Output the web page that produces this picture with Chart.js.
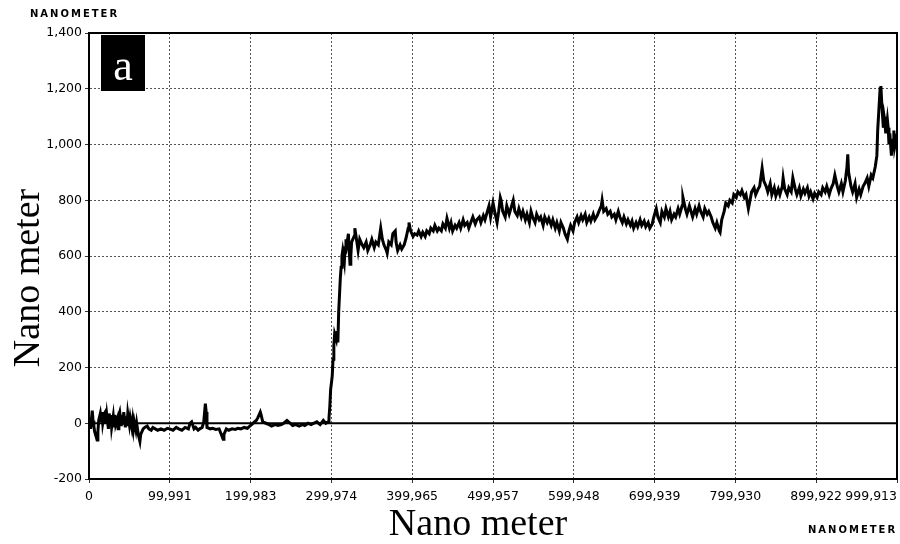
<!DOCTYPE html>
<html><head><meta charset="utf-8">
<script src="https://cdn.jsdelivr.net/npm/chart.js@4.4.1/dist/chart.umd.min.js"></script>
<style>html,body{margin:0;padding:0;background:#fff}#c{display:block}</style>
</head><body>
<canvas id="c" width="900" height="544"></canvas>
<script>
// Scan positions (nm) along the profile
const positionNm = [
  0,1000,2000,4000,5000,6000,7000,9000,10000,11000,
  12000,14000,15000,16000,17000,19000,20000,21000,22000,24000,
  25000,26000,27000,28000,30000,31000,32000,33000,35000,36000,
  37000,38000,40000,41000,42000,43000,45000,46000,47000,48000,
  50000,51000,53000,54000,55000,56000,58000,59000,61000,
  63000,64000,67000,69000,72000,74000,77000,79000,82000,85000,
  89000,93000,97000,100000,104000,108000,111000,115000,119000,123000,
  125000,127000,130000,132000,135000,137000,140000,142000,144000,145000,
  146000,150000,153000,157000,161000,163000,166000,167000,170000,173000,
  177000,181000,184000,188000,192000,196000,199000,203000,207000,209000,
  212000,213000,215000,219000,223000,226000,230000,234000,238000,241000,
  245000,249000,252000,256000,260000,264000,267000,271000,275000,278000,
  282000,286000,290000,293000,296000,297000,298000,299000,301000,302000,
  303000,304000,306000,307000,308000,309000,311000,312000,313000,314000,
  316000,317000,318000,319000,321000,322000,323000,324000,325000,328000,
  329000,330000,332000,333000,335000,338000,340000,343000,345000,348000,
  350000,353000,355000,358000,360000,361000,363000,365000,368000,369000,
  371000,374000,376000,379000,380000,382000,385000,387000,390000,392000,
  395000,396000,398000,401000,403000,406000,408000,411000,413000,416000,
  418000,421000,423000,426000,428000,431000,433000,436000,438000,441000,
  443000,446000,448000,450000,453000,455000,458000,460000,463000,465000,
  468000,470000,473000,475000,478000,480000,483000,485000,488000,490000,
  493000,495000,497000,500000,502000,505000,507000,509000,510000,512000,
  515000,517000,520000,522000,525000,527000,530000,532000,535000,537000,
  540000,542000,545000,547000,549000,552000,554000,557000,559000,562000,
  564000,567000,569000,572000,574000,577000,579000,582000,584000,587000,
  589000,592000,594000,596000,599000,601000,604000,606000,609000,611000,
  614000,616000,619000,621000,624000,626000,629000,631000,634000,635000,
  637000,640000,642000,645000,647000,650000,652000,655000,657000,660000,
  662000,665000,667000,670000,672000,674000,677000,679000,682000,684000,
  687000,689000,692000,694000,697000,699000,702000,704000,707000,709000,
  712000,714000,717000,719000,721000,724000,726000,729000,731000,734000,
  735000,738000,740000,743000,745000,747000,750000,752000,755000,757000,
  760000,762000,765000,767000,770000,772000,775000,777000,780000,781000,
  783000,786000,788000,791000,793000,796000,798000,801000,803000,806000,
  808000,811000,813000,816000,818000,820000,823000,825000,828000,830000,
  833000,835000,838000,840000,843000,845000,848000,850000,853000,855000,
  858000,859000,861000,864000,866000,869000,871000,874000,876000,879000,
  881000,884000,886000,889000,891000,893000,896000,898000,901000,903000,
  906000,908000,911000,913000,916000,918000,921000,923000,926000,928000,
  931000,933000,936000,938000,939000,940000,943000,945000,948000,950000,
  953000,955000,958000,960000,963000,965000,968000,970000,973000,975000,
  976000,978000,979000,980000,981000,983000,984000,985000,986000,988000,
  989000,990000,991000,993000,994000,995000,996000,997000,999000,999913
];
// Measured height (nm) at each position
const heightNm = [
  0,20,-20,45,10,-10,-30,-50,-60,-30,
  10,35,10,40,0,35,40,0,30,-20,
  35,10,30,-15,25,-10,30,-5,15,-20,
  30,40,-10,30,-5,40,-15,25,-10,35,
  -5,20,-15,10,-20,5,-25,0,-40,
  -65,-40,-20,-15,-10,-20,-25,-15,-20,-25,
  -20,-25,-18,-20,-25,-15,-20,-25,-15,-20,
  0,5,-20,-15,-25,-20,-15,5,70,40,
  -15,-20,-18,-22,-20,-35,-57,-40,-20,-25,
  -20,-22,-18,-20,-15,-18,-10,0,10,20,
  40,30,5,0,-5,-10,-5,-8,-5,0,
  10,0,-8,-5,-10,-5,-8,0,-5,0,
  5,-5,10,0,5,20,60,120,170,230,
  280,320,300,330,290,400,520,560,600,620,
  580,630,660,640,680,620,570,600,650,670,
  700,680,640,620,660,640,630,650,620,640,
  660,630,650,640,680,700,660,640,620,610,
  650,640,680,690,650,620,640,625,640,660,
  700,720,690,670,680,675,690,670,685,670,
  690,680,700,690,710,690,700,690,715,700,
  735,700,720,690,710,700,720,700,730,710,
  720,700,725,740,715,730,740,720,745,730,
  760,780,740,790,760,720,760,810,800,760,
  740,780,750,770,800,760,745,770,740,760,
  730,750,720,760,740,720,750,730,740,710,
  740,720,735,710,730,700,720,690,720,700,
  680,660,690,710,690,720,740,720,745,730,
  750,720,740,725,750,730,745,760,780,800,
  760,770,750,760,740,750,730,760,740,720,
  740,715,730,710,725,700,720,705,730,710,
  725,705,720,700,715,740,770,740,720,760,
  740,770,740,760,730,750,740,770,750,780,
  810,770,750,780,760,740,770,750,780,760,
  740,770,750,760,740,720,700,720,690,685,
  730,760,790,780,800,790,820,810,830,820,
  835,810,820,770,800,830,845,820,840,850,
  915,870,850,830,860,820,845,815,840,820,
  850,880,840,820,845,830,880,840,820,845,
  815,840,825,845,815,830,805,825,810,830,
  820,845,830,850,820,840,860,890,850,830,
  860,830,870,920,965,900,850,830,860,810,
  840,820,850,860,880,850,890,880,920,960,
  1050,1150,1200,1210,1150,1060,1100,1080,1040,1090,
  1060,1000,1040,960,1020,980,1050,990,1020,1000
];
const xTickValues = [0, 99991, 199983, 299974, 399965, 499957, 599948, 699939, 799930, 899922, 999913];
const yTickValues = [-200, 0, 200, 400, 600, 800, 1000, 1200, 1400];
const axisTitleText = 'Nano meter';
const unitLabelText = 'NANOMETER';
const panelLetter = 'a';

const fmt = v => Math.round(v).toLocaleString('en-US');

const decor = {
  id: 'decor',
  beforeDatasetsDraw(chart) {
    const {ctx, chartArea: a, scales: {y}} = chart;
    const y0 = y.getPixelForValue(0);
    ctx.save();
    ctx.strokeStyle = '#000'; ctx.lineWidth = 2;
    ctx.beginPath(); ctx.moveTo(a.left, y0); ctx.lineTo(a.right, y0); ctx.stroke();
    ctx.restore();
  },
  afterDraw(chart) {
    const {ctx, chartArea: a, scales: {x}} = chart;
    ctx.save();
    // frame
    ctx.strokeStyle = '#000'; ctx.lineWidth = 2;
    ctx.strokeRect(a.left, a.top, a.right - a.left, a.bottom - a.top);
    // x tick labels (last one kept inside the plot edge)
    ctx.fillStyle = '#000';
    ctx.font = '12.5px "DejaVu Sans"';
    ctx.textBaseline = 'middle'; ctx.textAlign = 'left';
    xTickValues.forEach(v => {
      const s = fmt(v);
      const w = ctx.measureText(s).width;
      let left = x.getPixelForValue(v) - w / 2;
      if (left + w > a.right) left = a.right - w;
      ctx.fillText(s, left, a.bottom + 18);
    });
    // axis titles
    ctx.font = '38px "Liberation Serif"';
    ctx.textBaseline = 'alphabetic'; ctx.textAlign = 'center';
    ctx.fillText(axisTitleText, (a.left + a.right) / 2 - 15, 535);
    ctx.save();
    ctx.translate(39, (a.top + a.bottom) / 2 + 22);
    ctx.rotate(-Math.PI / 2);
    ctx.fillText(axisTitleText, 0, 0);
    ctx.restore();
    // unit labels
    ctx.font = 'bold 10px "DejaVu Sans"';
    ctx.letterSpacing = '2px';
    ctx.textAlign = 'left';
    ctx.fillText(unitLabelText, 30, 17);
    ctx.fillText(unitLabelText, 808, 533);
    ctx.letterSpacing = '0px';
    // panel letter box
    ctx.fillStyle = '#000';
    ctx.fillRect(a.left + 12, a.top + 2, 44, 56);
    ctx.fillStyle = '#fff';
    ctx.font = '44px "Liberation Serif"';
    ctx.textAlign = 'center';
    ctx.fillText(panelLetter, a.left + 34, a.top + 47);
    ctx.restore();
  }
};

const gridOpts = {color: '#555', lineWidth: 1, drawTicks: true, tickLength: 4, tickColor: '#333'};

new Chart(document.getElementById('c').getContext('2d'), {
  type: 'line',
  data: {
    datasets: [{
      data: positionNm.map((p, i) => ({x: p, y: heightNm[i]})),
      borderColor: '#000',
      borderWidth: 3,
      pointRadius: 0,
      tension: 0,
      fill: false
    }]
  },
  options: {
    responsive: false,
    animation: false,
    devicePixelRatio: 1,
    layout: {padding: {left: 0, right: 3, top: 33, bottom: 0}},
    plugins: {legend: {display: false}, tooltip: {enabled: false}},
    scales: {
      x: {
        type: 'linear', min: 0, max: 999913,
        afterBuildTicks: s => { s.ticks = xTickValues.map(v => ({value: v})); },
        afterFit: s => { s.height = 65; },
        ticks: {display: false},
        grid: gridOpts,
        border: {display: true, color: '#000', width: 2, dash: [2, 2]}
      },
      y: {
        type: 'linear', min: -200, max: 1400,
        afterBuildTicks: s => { s.ticks = yTickValues.map(v => ({value: v})); },
        afterFit: s => { s.width = 89; },
        ticks: {color: '#000', font: {family: 'DejaVu Sans', size: 12.5}, padding: 3, callback: v => fmt(v)},
        grid: gridOpts,
        border: {display: true, color: '#000', width: 2, dash: [2, 2]}
      }
    }
  },
  plugins: [decor]
});
</script>
</body></html>
